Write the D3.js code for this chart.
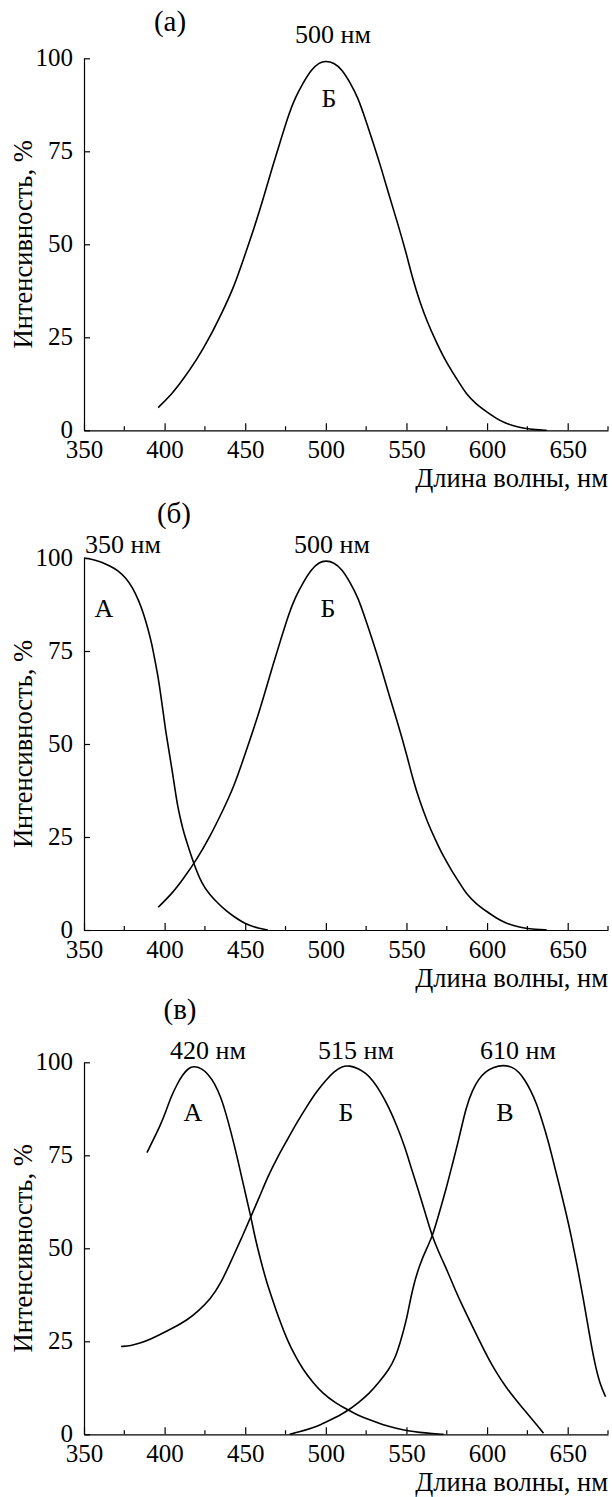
<!DOCTYPE html>
<html>
<head>
<meta charset="utf-8">
<script src="https://cdn.jsdelivr.net/npm/d3@7"></script>
<style>
  body { margin: 0; background: #fff; }
  svg text { font-family: "Liberation Serif", "Times New Roman", serif; fill: #000; }
</style>
</head>
<body>
<svg id="chart" width="612" height="1497"></svg>
<script>
// wavelength (nm) / intensity (%) pairs
const bandB500 = [[396,6.1],[405,10],[411,13.4],[420,19],[428,25],[436,32],[443,38.5],[450,47.4],[456,55],[462,63.5],[467,71],[472,78],[477,85],[481,89.4],[486,93.5],[491,97],[496,98.9],[500,99.3],[505,98.8],[510,97],[515,93.5],[520,89.4],[525,83],[529,77.8],[534,71],[539,63.5],[545,55],[550,47.4],[554,40.5],[558,34.9],[563,29],[568,24.2],[573,19.7],[578,16],[583,12.6],[587,9.8],[593,7.1],[600,4.9],[606,3.1],[611,2],[617,1.1],[623,0.5],[630,0.15],[637,0]];

const bandA350 = [[350,100],[355,99.7],[361,98.9],[366,97.9],[371,96.7],[376,94.6],[380,92.2],[384,88.5],[387,85],[390,80.5],[392,77],[394,72.5],[396,68],[398,62],[399.5,57.3],[401,52.5],[403,47.4],[405,42],[406.5,37.6],[408,33.5],[410,29.5],[412,26],[414,23.3],[418,17.9],[423,12.5],[428,9.5],[433,7.2],[438,5.2],[443,3.6],[448,2.2],[452,1.3],[458,0.5],[464,0]];

const bandA420 = [[389,75.7],[393,79.2],[397,82.7],[401,87],[404,90.8],[408,94.3],[411,96.6],[415,98.5],[418,99],[423,98.4],[427,96.8],[431,94.4],[435,90.5],[438,86.3],[441,81.5],[445,74.6],[449,66.8],[453.5,58.5],[456,53],[459.5,46.9],[463,41.3],[467,36.1],[471,31],[476,25.4],[481,21],[486,17.3],[492,13.9],[498,11],[506,8.4],[514,6.5],[520,5.1],[527,3.9],[535,2.6],[544,1.6],[551,0.9],[558,0.5],[566,0.2],[573,0]];

const bandB515 = [[373,23.6],[379,23.8],[385,24.5],[392,25.7],[399,27.2],[406,28.8],[414,30.7],[421,33.2],[428,36.1],[435,40.6],[442.5,47.8],[448,53],[453.5,58.5],[459,64],[464,69.3],[470,74.5],[476,79.1],[482,83.8],[488,88],[494,92],[500,95.2],[505,97.5],[510,99],[515,99.1],[520,98.4],[525,97],[529,95.2],[534,92],[539,88],[544,83],[549,77.3],[553,71.5],[558,64.8],[562,59],[566,53.1],[571,48],[576,43.3],[580,39],[585,34.3],[590,29.8],[595,25.4],[600,21],[606,16.4],[612,12.5],[618,9.2],[624,6],[630,3],[635,0.3]];

const bandV610 = [[477.6,0],[484,0.7],[491,1.6],[497,2.6],[503,3.9],[509,5.2],[514,6.5],[520,8.4],[527,11],[533,14],[539,17.3],[543,20.5],[546,24.5],[550,30.5],[553.5,38.8],[558,45.5],[563,50.4],[566,53.1],[570,59],[575,66.6],[579,73.5],[582.4,79.1],[587,88.1],[591,92.5],[594.4,95.3],[599,97.5],[604,98.7],[610,99.3],[616,98.7],[620,97.3],[623.3,95.3],[627,92.5],[630.6,89],[634,84.5],[637.8,79.1],[641,73.5],[645,66.6],[649,59.5],[652.3,53.1],[656,45],[659.5,37],[663,28],[666.7,19.1],[670,13.5],[673.5,10.1]];

const xTicks = [350, 400, 450, 500, 550, 600, 650];
const xMinorTicks = [375, 425, 475, 525, 575, 625, 675];
const yTicks = [0, 25, 50, 75, 100];
const xTitle = "Длина волны, нм";
const yTitle = "Интенсивность, %";

const panels = [
  { top: 58.3, title: "(а)", titleX: 170, titleY: -27,
    curves: [bandB500],
    peaks: [{ text: "500 нм", letter: "Б", x: 333, lx: 329 }],
    peakY: -15, letterY: 48.5 },
  { top: 558, title: "(б)", titleX: 174, titleY: -35,
    curves: [bandA350, bandB500],
    peaks: [{ text: "350 нм", letter: "А", x: 123, lx: 104 },
            { text: "500 нм", letter: "Б", x: 332, lx: 328 }],
    peakY: -5, letterY: 58.7 },
  { top: 1062.3, title: "(в)", titleX: 180, titleY: -43,
    curves: [bandA420, bandB515, bandV610],
    peaks: [{ text: "420 нм", letter: "А", x: 208, lx: 193 },
            { text: "515 нм", letter: "Б", x: 356, lx: 346 },
            { text: "610 нм", letter: "В", x: 518, lx: 505 }],
    peakY: -3, letterY: 58.7 }
];

const svg = d3.select("#chart");
const left = 84, right = 608, plotH = 372;

const x = d3.scaleLinear().domain([350, 675]).range([left, right]);
const y = d3.scaleLinear().domain([0, 100]).range([plotH, 0]);

const line = d3.line()
  .x(d => x(d[0]))
  .y(d => y(d[1]))
  .curve(d3.curveBasis);

panels.forEach(p => {
  const g = svg.append("g").attr("transform", `translate(0,${p.top})`);

  // x axis, ticks pointing up into the plot
  const xAxis = g.append("g")
    .attr("transform", `translate(0,${plotH})`)
    .call(d3.axisBottom(x).tickValues(xTicks).tickSizeInner(-7).tickSizeOuter(0).tickPadding(10));
  xAxis.selectAll(".tick text").attr("font-size", 25).attr("dy", "0.71em");
  xAxis.selectAll(".minor")
    .data(xMinorTicks)
    .enter().append("line")
    .attr("class", "minor")
    .attr("x1", d => x(d)).attr("x2", d => x(d))
    .attr("y1", 0).attr("y2", -4)
    .attr("stroke", "#000").attr("stroke-width", 1.2);

  // y axis, ticks pointing right
  const yAxis = g.append("g")
    .attr("transform", `translate(${left},0)`)
    .call(d3.axisLeft(y).tickValues(yTicks).tickSizeInner(-6).tickSizeOuter(0).tickPadding(11));
  yAxis.selectAll(".tick text").attr("font-size", 25).attr("dy", "0.28em");

  g.selectAll(".domain").attr("stroke", "#000").attr("stroke-width", 1.2);
  g.selectAll(".tick line").attr("stroke", "#000").attr("stroke-width", 1.2);
  g.selectAll(".tick text").attr("font-family", "Liberation Serif").attr("fill", "#000");

  g.selectAll("path.curve")
    .data(p.curves)
    .enter().append("path")
    .attr("class", "curve")
    .attr("d", line)
    .attr("fill", "none")
    .attr("stroke", "#000")
    .attr("stroke-width", 1.6);

  g.append("text")
    .attr("x", p.titleX).attr("y", p.titleY)
    .attr("text-anchor", "middle").attr("font-size", 29)
    .text(p.title);

  p.peaks.forEach(k => {
    g.append("text").attr("x", k.x).attr("y", p.peakY)
      .attr("text-anchor", "middle").attr("font-size", 26).text(k.text);
    g.append("text").attr("x", k.lx).attr("y", p.letterY)
      .attr("text-anchor", "middle").attr("font-size", 26).text(k.letter);
  });

  g.append("text")
    .attr("x", right).attr("y", plotH + 57)
    .attr("text-anchor", "end").attr("font-size", 26.5)
    .text(xTitle);

  g.append("text")
    .attr("transform", `translate(32,${plotH / 2}) rotate(-90)`)
    .attr("text-anchor", "middle").attr("font-size", 26.5)
    .text(yTitle);
});
</script>
</body>
</html>
